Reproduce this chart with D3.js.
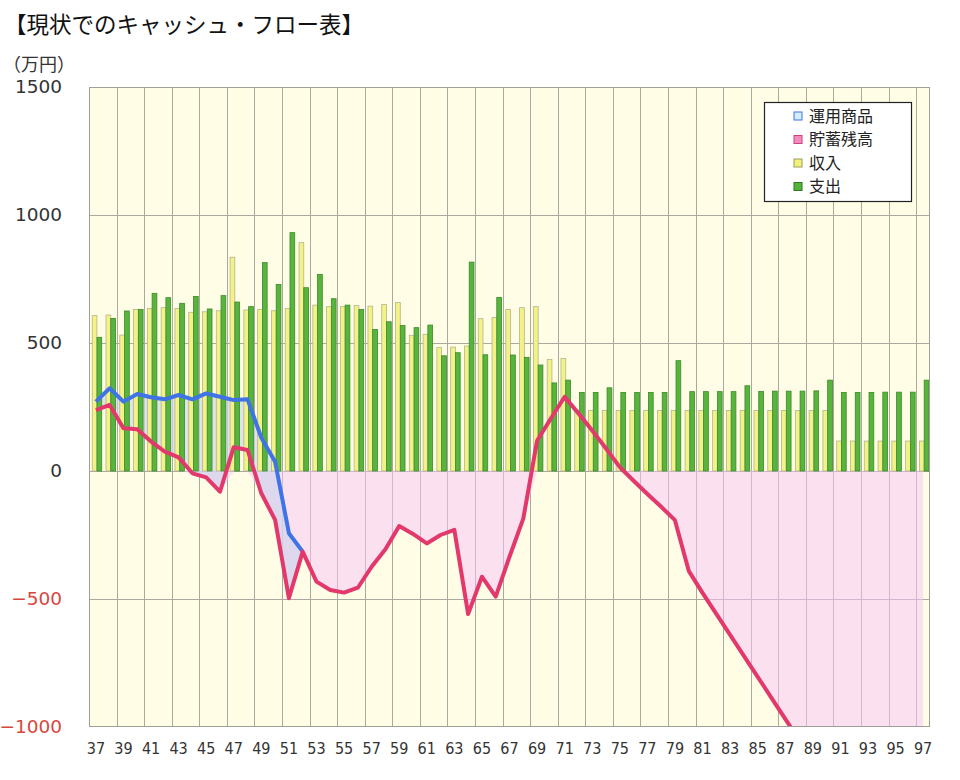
<!DOCTYPE html>
<html>
<head>
<meta charset="utf-8">
<script src="https://cdn.jsdelivr.net/npm/d3@7"></script>
<style>
  body { margin: 0; background: #fff; }
  svg { display: block; }
</style>
</head>
<body>
<svg id="chart" width="960" height="780"></svg>
<script>
// ages 37..97
const ages = d3.range(37, 98);
const yTicks = [1500, 1000, 500, 0, -500, -1000];
const xTicks = ages.filter(a => a % 2 === 1);

// 収入
const income = [607, 609, 531, 631, 635, 638, 635, 620, 622, 626,
  835, 629, 631, 626, 635, 892, 648, 642, 642, 646,
  644, 651, 658, 530, 534, 482, 484, 488, 595, 600,
  631, 638, 642, 436, 440,
  236, 236, 236, 236, 236, 236, 236, 236, 236, 236,
  236, 236, 236, 236, 236, 236, 236, 236, 236,
  117, 117, 117, 117, 117, 117, 117];
// 支出
const expense = [522, 596, 625, 631, 694, 677, 655, 682, 633, 685,
  660, 642, 814, 729, 931, 716, 768, 673, 648, 631,
  553, 583, 568, 560, 570, 450, 462, 816, 454, 678,
  453, 444, 414, 344, 355, 307, 307, 325, 307, 307,
  307, 307, 431, 310, 310, 310, 310, 333, 311, 312,
  312, 312, 313, 355, 307, 307, 307, 308, 308, 308, 355];
// 運用商品 (ages 37..52)
const fund = [271, 323, 271, 301, 288, 280, 297, 280, 303, 290,
  277, 280, 130, 36, -243, -315];
// 貯蓄残高
const savings = [238, 258, 167, 163, 115, 76, 53, -9, -25, -81,
  93, 82, -87, -191, -497, -315, -432, -465, -475, -456,
  -374, -306, -215, -246, -283, -250, -230, -559, -413, -491,
  -335, -186, 118, 205, 290, 225, 158, 88, 15, -38,
  -90, -140, -192, -390, -476, -558, -640, -722, -804, -886,
  -968, -1050, -1130, -1210, -1290, -1370, -1450, -1530, -1610, -1690, -1770];

const legendItems = [
  { name: '運用商品', fill: '#d6ecff', stroke: '#3f73e6' },
  { name: '貯蓄残高', fill: '#f28cbc', stroke: '#d0407a' },
  { name: '収入', fill: '#f2f27a', stroke: '#9a9a60' },
  { name: '支出', fill: '#52b23a', stroke: '#2d7a22' }
];

const margin = { top: 87, right: 30, bottom: 53, left: 89 };
const width = 960 - margin.left - margin.right;
const height = 780 - margin.top - margin.bottom;

const svg = d3.select('#chart');

svg.append('text')
  .attr('x', 4).attr('y', 33)
  .attr('font-family', '"Noto Sans CJK JP", sans-serif')
  .attr('font-size', 22.5)
  .attr('fill', '#111')
  .text('【現状でのキャッシュ・フロー表】');

svg.append('text')
  .attr('x', 3).attr('y', 71)
  .attr('font-family', '"Noto Sans CJK JP", sans-serif')
  .attr('font-size', 18)
  .attr('fill', '#333')
  .text('（万円）');

const chart = svg.append('g')
  .attr('transform', 'translate(' + margin.left + ',' + margin.top + ')');

const x = d3.scaleBand().domain(ages).range([0, width]).padding(0);
const xs = d3.scaleBand().domain(['income', 'expense'])
  .range([0, x.bandwidth()]).paddingOuter(0.45).align(0.75);
const y = d3.scaleLinear().domain([-1000, 1500]).range([height, 0]);
const cx = a => x(a) + x.bandwidth() / 2;

chart.append('defs').append('clipPath').attr('id', 'plotClip')
  .append('rect').attr('width', width).attr('height', height);

chart.append('rect')
  .attr('width', width).attr('height', height)
  .attr('fill', '#fffde6');

// grid
const grid = chart.append('g').attr('stroke', '#a9a9a0').attr('stroke-width', 1);
grid.selectAll('line.v').data(xTicks.filter(a => a > 37)).join('line')
  .attr('x1', d => Math.round(x(d)) + 0.5).attr('x2', d => Math.round(x(d)) + 0.5)
  .attr('y1', 0).attr('y2', height);
grid.selectAll('line.h').data(yTicks.slice(1, -1)).join('line')
  .attr('x1', 0).attr('x2', width)
  .attr('y1', d => Math.round(y(d)) + 0.5).attr('y2', d => Math.round(y(d)) + 0.5);

// areas
const areas = chart.append('g').attr('clip-path', 'url(#plotClip)');

const pinkArea = d3.area()
  .x((d, i) => cx(ages[i]))
  .y0(y(0))
  .y1(d => y(Math.min(d, 0)));
areas.append('path').datum(savings)
  .attr('d', pinkArea)
  .attr('fill', '#f7c5fa').attr('fill-opacity', 0.5);

const gapArea = d3.area()
  .x((d, i) => cx(ages[i]))
  .y0((d, i) => y(savings[i]))
  .y1(d => y(d));
areas.append('path').datum(fund)
  .attr('d', gapArea)
  .attr('fill', '#d2d4ec').attr('fill-opacity', 0.7);

// bars
const groups = chart.append('g').selectAll('g').data(ages).join('g')
  .attr('transform', d => 'translate(' + x(d) + ',0)');
groups.append('rect')
  .attr('x', xs('income')).attr('width', xs.bandwidth())
  .attr('y', (d, i) => y(income[i])).attr('height', (d, i) => y(0) - y(income[i]))
  .attr('fill', '#f2f286').attr('stroke', '#b4b48e').attr('stroke-width', 0.8);
groups.append('rect')
  .attr('x', xs('expense')).attr('width', xs.bandwidth())
  .attr('y', (d, i) => y(expense[i])).attr('height', (d, i) => y(0) - y(expense[i]))
  .attr('fill', '#58b43c').attr('stroke', '#3a8a28').attr('stroke-width', 0.8);

// lines (on top of bars)
const lines = chart.append('g').attr('clip-path', 'url(#plotClip)');
const line = d3.line().x((d, i) => cx(ages[i])).y(d => y(d));
lines.append('path').datum(fund)
  .attr('d', line).attr('fill', 'none')
  .attr('stroke', '#3f73e6').attr('stroke-width', 4).attr('stroke-linejoin', 'round');
lines.append('path').datum(savings)
  .attr('d', line).attr('fill', 'none')
  .attr('stroke', '#e2386c').attr('stroke-width', 4).attr('stroke-linejoin', 'round');

// border
chart.append('rect')
  .attr('x', 0.5).attr('y', 0.5).attr('width', width - 1).attr('height', height - 1)
  .attr('fill', 'none').attr('stroke', '#a0a098');

// axes
const yAxis = chart.append('g')
  .call(d3.axisLeft(y).tickValues(yTicks).tickFormat(d3.format('d')).tickSize(0).tickPadding(27));
yAxis.select('.domain').remove();
yAxis.selectAll('text')
  .attr('font-family', '"DejaVu Sans", Verdana, sans-serif')
  .attr('font-size', 18.5)
  .attr('fill', d => d < 0 ? '#d9453f' : '#333');

const xAxis = chart.append('g')
  .attr('transform', 'translate(0,' + height + ')')
  .call(d3.axisBottom(x).tickValues(xTicks).tickSize(0).tickPadding(16));
xAxis.select('.domain').remove();
xAxis.selectAll('text')
  .attr('font-family', '"DejaVu Sans Condensed", "DejaVu Sans", sans-serif')
  .attr('font-size', 16)
  .attr('fill', '#333');

// legend
const legend = svg.append('g').attr('transform', 'translate(764,102)');
legend.append('rect')
  .attr('x', 0.5).attr('y', 0.5).attr('width', 147).attr('height', 99)
  .attr('fill', '#fff').attr('stroke', '#222').attr('stroke-width', 1.2);
const li = legend.selectAll('g').data(legendItems).join('g')
  .attr('transform', (d, i) => 'translate(0,' + (14 + i * 23.5) + ')');
li.append('rect')
  .attr('x', 30).attr('y', -4).attr('width', 8).attr('height', 8)
  .attr('fill', d => d.fill).attr('stroke', d => d.stroke);
li.append('text')
  .attr('x', 45).attr('y', 0).attr('dy', '0.36em')
  .attr('font-family', '"Noto Sans CJK JP", sans-serif')
  .attr('font-size', 16)
  .attr('fill', '#222')
  .text(d => d.name);
</script>
</body>
</html>
